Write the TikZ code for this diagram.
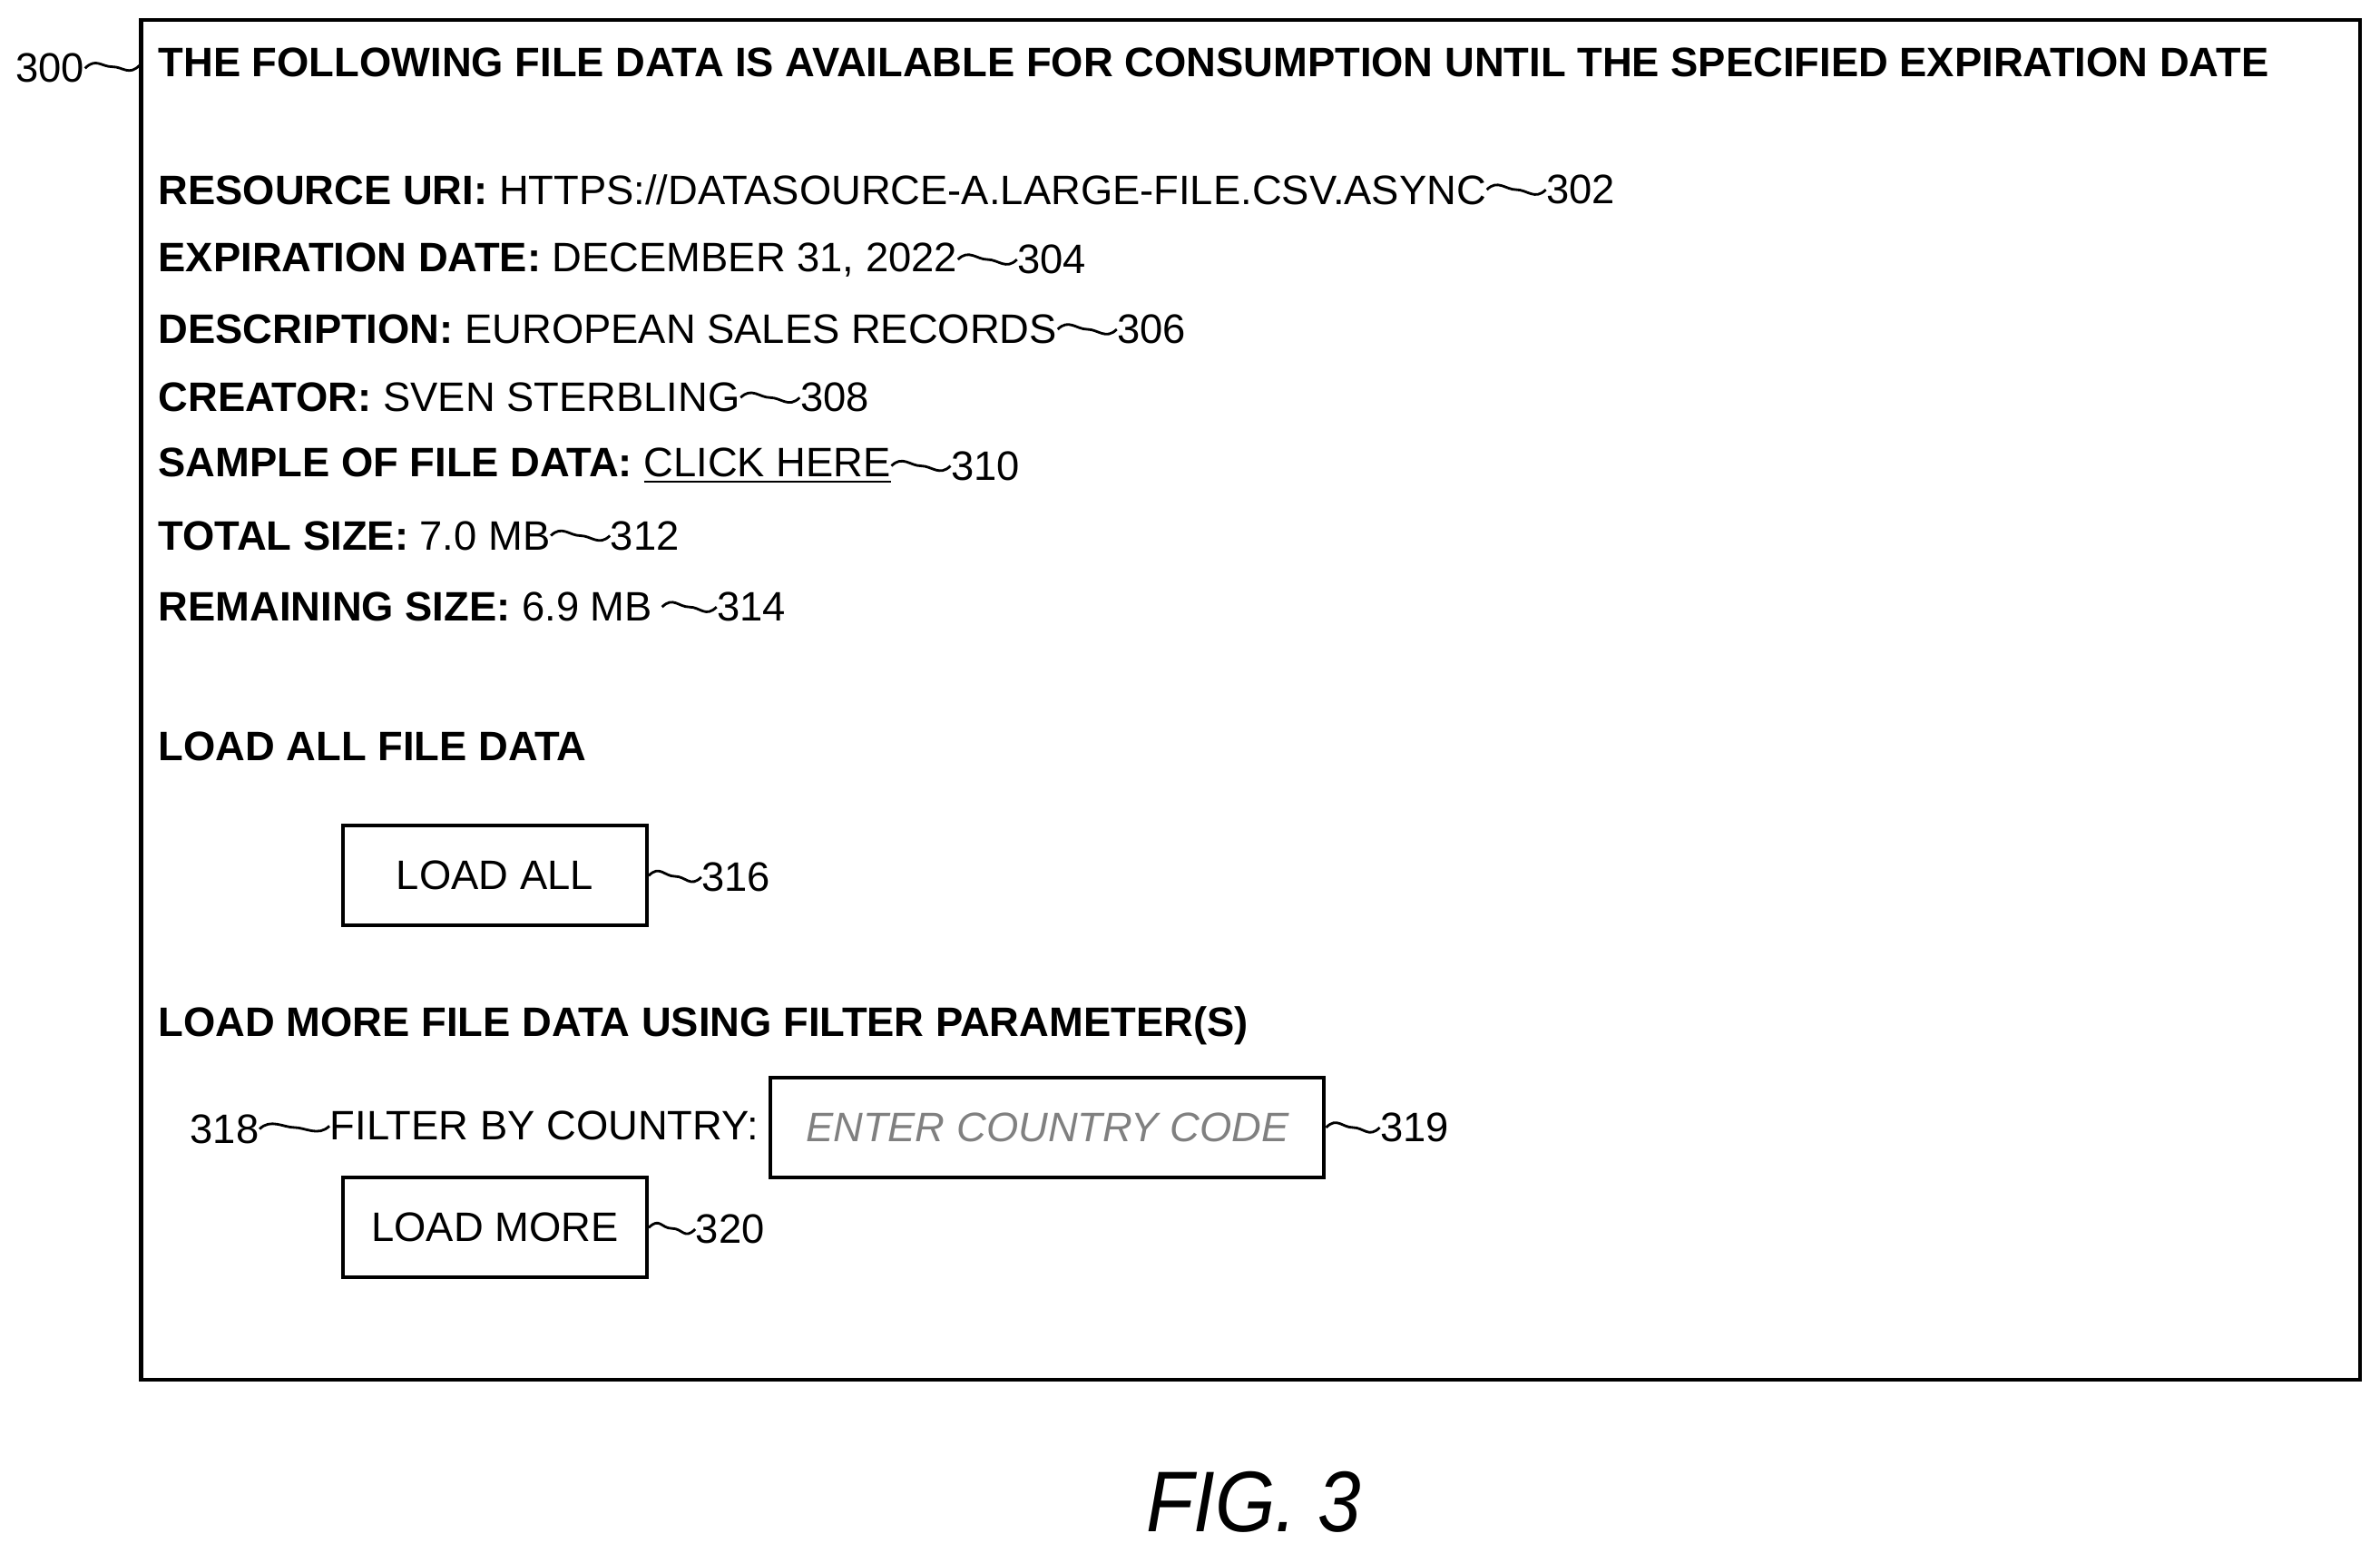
\documentclass[tikz,border=0pt]{standalone}
\usepackage{fontspec}
\setmainfont{Liberation Sans}
\usetikzlibrary{positioning, calc}
\tikzset{
	field/.style = {
		anchor=west,
		inner sep=0pt,
		font=\fontsize{12.9}{14}\selectfont
	},
	refnum/.style = {
		anchor=west,
		inner sep=0pt,
		font=\fontsize{12.9}{14}\selectfont
	},
	button/.style = {
		draw,
		line width=1.2pt,
		minimum width=3.35cm,
		minimum height=1.1cm,
		font=\fontsize{12.9}{14}\selectfont
	},
	wave/.style = {
		line width=0.8pt
	}
}
\newcommand{\squig}[2]{\draw[wave] (#1) .. controls +(0.12cm,0.12cm) and +(-0.12cm,0cm) .. ($(#1)!0.5!(#2)$) .. controls +(0.12cm,0cm) and +(-0.12cm,-0.12cm) .. (#2);}
\begin{document}
\begin{tikzpicture}[x=0.01673cm,y=-0.01673cm]
\useasboundingbox (0,0) rectangle (1568,1023);
\draw[line width=1.2pt] (93,13) rectangle (1555,909);
% header
\node[field] (head) at (104,41) {\bfseries THE FOLLOWING FILE DATA IS AVAILABLE FOR CONSUMPTION UNTIL THE SPECIFIED EXPIRATION DATE};
\node[refnum, anchor=east] (n300) at (56,45) {300};
\coordinate (c300) at (92,43);
\squig{n300.east}{c300}
% fields
\node[field] (uri) at (104,125) {\textbf{RESOURCE URI:} HTTPS://DATASOURCE-A.LARGE-FILE.CSV.ASYNC};
\node[field] (expire) at (104,171) {\textbf{EXPIRATION DATE:} DECEMBER 31, 2022};
\node[field] (desc) at (104,217) {\textbf{DESCRIPTION:} EUROPEAN SALES RECORDS};
\node[field] (creator) at (104,262) {\textbf{CREATOR:} SVEN STERBLING};
\node[field] (sample) at (104,307) {\textbf{SAMPLE OF FILE DATA:} \underline{CLICK HERE}};
\node[field] (total) at (104,353) {\textbf{TOTAL SIZE:} 7.0 MB};
\node[field] (remain) at (104,400) {\textbf{REMAINING SIZE:} 6.9 MB};
\node[refnum, right=0.65cm of uri.east] (n302) {302};
\node[refnum, right=0.65cm of expire.east] (n304) {304};
\node[refnum, right=0.65cm of desc.east] (n306) {306};
\node[refnum, right=0.65cm of creator.east] (n308) {308};
\node[refnum, right=0.65cm of sample.east] (n310) {310};
\node[refnum, right=0.65cm of total.east] (n312) {312};
\node[refnum, right=0.7cm of remain.east] (n314) {314};
\foreach \a/\b in {uri/n302, expire/n304, desc/n306, creator/n308, sample/n310, total/n312}
	\squig{\a.east}{\b.west}
\coordinate (c314) at ($(remain.east)+(0.1cm,0)$);
\squig{c314}{n314.west}
% load all
\node[field] (loadhead) at (104,492) {\bfseries LOAD ALL FILE DATA};
\node[button] (loadall) at (326,577) {LOAD ALL};
\node[refnum] (n316) at (462,578) {316};
\squig{loadall.east}{n316.west}
% load more
\node[field] (morehead) at (104,676) {\bfseries LOAD MORE FILE DATA USING FILTER PARAMETER(S)};
\node[field] (filter) at (217,742) {FILTER BY COUNTRY:};
\node[refnum, anchor=east] (n318) at (171,744) {318};
\squig{n318.east}{filter.west}
\node[button, minimum width=6.1cm] (country) at (690,743) {\color{gray}\itshape ENTER COUNTRY CODE};
\node[refnum] (n319) at (909,743) {319};
\squig{country.east}{n319.west}
\node[button] (loadmore) at (326,809) {LOAD MORE};
\node[refnum] (n320) at (458,810) {320};
\squig{loadmore.east}{n320.west}
% caption
\node[font=\fontsize{27}{30}\selectfont\itshape] (fig) at (826,990) {\scalebox{0.9}[1]{FIG. 3}};
\end{tikzpicture}
\end{document}
